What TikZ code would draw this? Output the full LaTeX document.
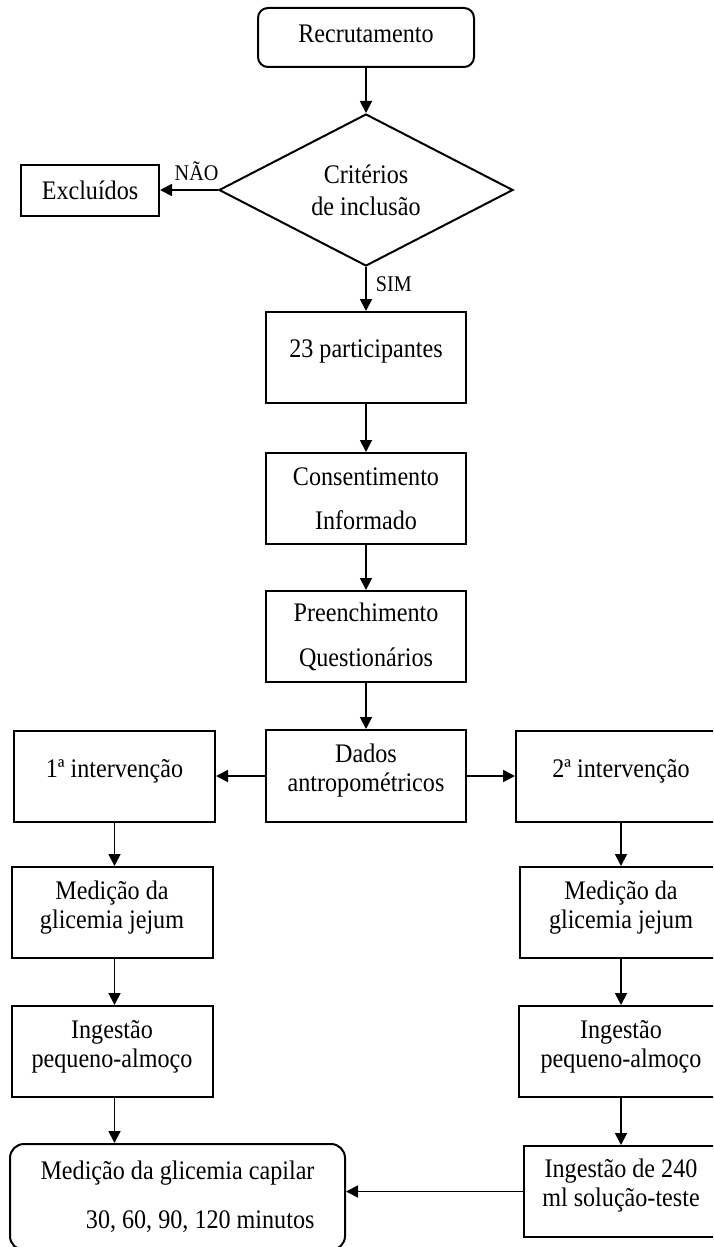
\documentclass[tikz,border=0pt]{standalone}
\usepackage{fontspec}
\setmainfont{Liberation Serif}[FakeStretch=0.9]
\usetikzlibrary{shapes.geometric,arrows.meta,calc}
\begin{document}
\begin{tikzpicture}[x=0.5pt,y=-0.5pt,
  every node/.style={font=\fontsize{13.4}{14.5}\selectfont},
  box/.style={draw, line width=1pt, inner sep=0pt, align=center},
  arr/.style={line width=0.9pt, -{Triangle[length=6pt,width=6pt]}},
  lbl/.style={font=\fontsize{11.2}{12}\selectfont, inner sep=1pt},
  lift/.style={text depth=#1}]
\path[use as bounding box] (0,0) rectangle (713,1247);
\clip (0,0) rectangle (713,1247);

\node[box, rounded corners=5pt, minimum width=108pt, minimum height=29.5pt, lift=4pt] (rec) at (366,37.5) {Recrutamento};
\node[draw, line width=1pt, diamond, aspect=1.93, minimum width=147pt, minimum height=76pt, inner sep=0pt, align=center] (dia) at (366,190) {Critérios\\[1.5pt]de inclusão};
\node[box, minimum width=69pt, minimum height=25.5pt] (exc) at (90,190) {Excluídos};
\node[box, minimum width=100pt, minimum height=45.5pt, lift=9pt] (p23) at (366,357.5) {23 participantes};
\node[box, minimum width=100pt, minimum height=45.5pt] (cons) at (366,498.5) {Consentimento\\[7.5pt]Informado};
\node[box, minimum width=100pt, minimum height=45.5pt] (pre) at (366,636.5) {Preenchimento\\[8pt]Questionários};
\node[box, minimum width=100pt, minimum height=46pt, lift=8pt] (dados) at (366,776) {Dados\\antropométricos};
\node[box, minimum width=100.5pt, minimum height=45.5pt, lift=8pt] (int1) at (114.5,776) {1ª intervenção};
\node[box, minimum width=105pt, minimum height=45.5pt, lift=8pt] (int2) at (621,776) {2ª intervenção};
\node[box, minimum width=100.5pt, minimum height=45.5pt, lift=8pt] (med1) at (112,912.5) {Medição da\\glicemia jejum};
\node[box, minimum width=101pt, minimum height=45.5pt, lift=8pt] (med2) at (621,912.5) {Medição da\\glicemia jejum};
\node[box, minimum width=100.5pt, minimum height=45.5pt, lift=8pt] (ing1) at (112,1051.5) {Ingestão\\pequeno-almoço};
\node[box, minimum width=102pt, minimum height=45.5pt, lift=8pt] (ing2) at (621,1051.5) {Ingestão\\pequeno-almoço};
\node[box, rounded corners=7pt, minimum width=167.5pt, minimum height=53pt, align=right] (cap) at (177.5,1197) {Medição da glicemia capilar\\[10pt]30, 60, 90, 120 minutos};
\node[box, minimum width=97pt, minimum height=45.5pt, lift=9pt] (ing240) at (621,1191.5) {Ingestão de 240\\ml solução-teste};

\draw[arr] (rec) -- (dia);
\draw[arr] (dia.west) -- node[lbl, above=3pt, pos=0.37] {NÃO} (exc.east);
\draw[arr] (dia.south) -- node[lbl, right=3.5pt, pos=0.39] {SIM} (p23.north);
\draw[arr] (p23) -- (cons);
\draw[arr] (cons) -- (pre);
\draw[arr] (pre) -- (dados);
\draw[arr] (dados.west) -- (dados.west -| int1.east);
\draw[arr] (dados.east) -- (dados.east -| int2.west);
\draw[arr] (int1.south) -- (int1.south |- med1.north);
\draw[arr] (med1.south -| int1.south) -- (int1.south |- ing1.north);
\draw[arr] (ing1.south -| int1.south) -- (int1.south |- cap.north);
\draw[arr] (int2) -- (med2);
\draw[arr] (med2) -- (ing2);
\draw[arr] (ing2) -- (ing240);
\draw[arr] (ing240.west) -- (ing240.west -| cap.east);
\end{tikzpicture}
\end{document}
